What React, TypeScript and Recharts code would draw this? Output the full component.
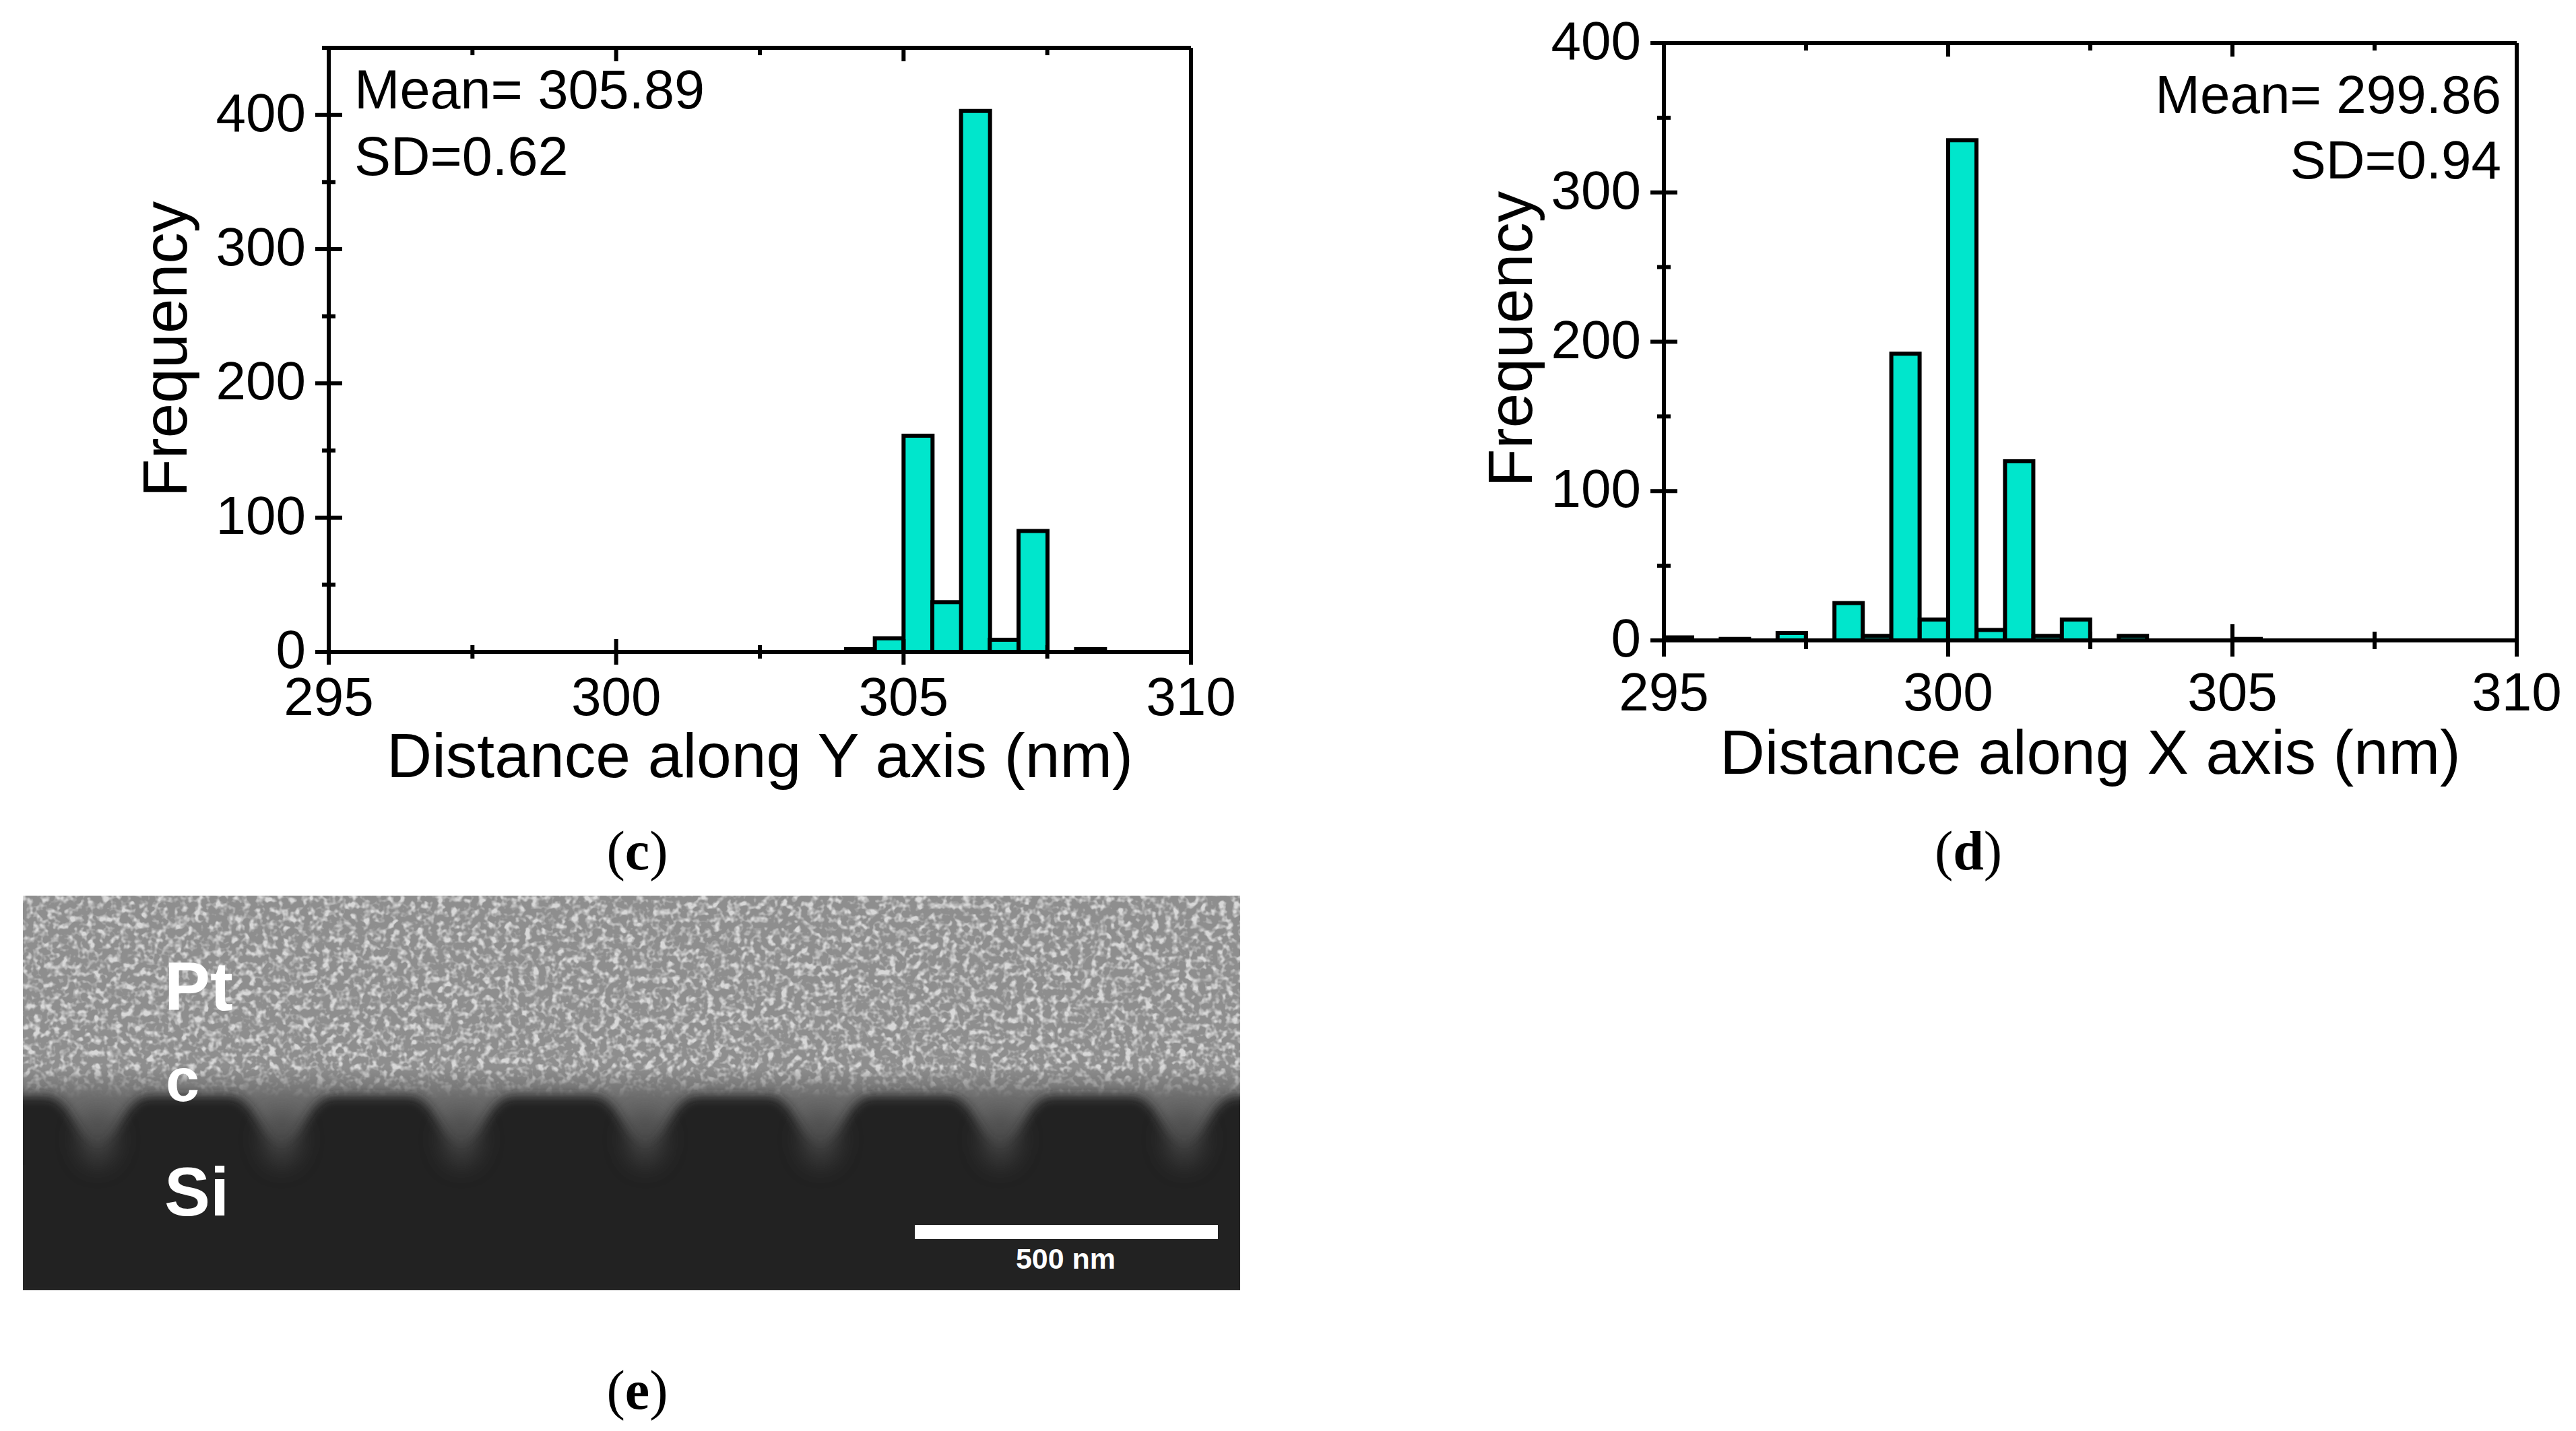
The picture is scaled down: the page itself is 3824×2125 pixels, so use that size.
import { Bar, BarChart, Label, XAxis, YAxis } from "recharts";

const BINS = [
  295, 295.5, 296, 296.5, 297, 297.5, 298, 298.5, 299, 299.5,
  300, 300.5, 301, 301.5, 302, 302.5, 303, 303.5, 304, 304.5,
  305, 305.5, 306, 306.5, 307, 307.5, 308, 308.5, 309, 309.5,
];
const COUNTS_Y = [
  0, 0, 0, 0, 0, 0, 0, 0, 0, 0,
  0, 0, 0, 0, 0, 0, 0, 0, 2, 10,
  161, 37, 403, 9, 90, 0, 2, 0, 0, 0,
];
const COUNTS_X = [
  2, 0, 1, 0, 5, 0, 25, 3, 192, 14,
  335, 7, 120, 3, 14, 0, 3, 0, 0, 0,
  1, 0, 0, 0, 0, 0, 0, 0, 0, 0,
];
const X_TICKS = [295, 297.5, 300, 302.5, 305, 307.5, 310];
const Y_TICKS_Y = [0, 50, 100, 150, 200, 250, 300, 350, 400, 450];
const Y_TICKS_X = [0, 50, 100, 150, 200, 250, 300, 350, 400];

const FONT = "'Liberation Sans', Arial, sans-serif";
const SERIF = "'Liberation Serif', 'Times New Roman', serif";
const BAR_COLOR = "#00E6CC";
const AXIS_LINE = { stroke: "#000", strokeWidth: 6 };

function BottomTick({ x, y, payload, major, minor, labelY }: any) {
  const isMajor = payload.value % 5 === 0;
  const len = isMajor ? major : minor;
  return (
    <g>
      <line x1={x} x2={x} y1={y - len} y2={y + len} stroke="#000" strokeWidth={6} />
      {isMajor && (
        <text x={x} y={y + labelY} textAnchor="middle" fontFamily={FONT} fontSize={80} fill="#000">
          {payload.value}
        </text>
      )}
    </g>
  );
}

function TopTick({ x, y, payload }: any) {
  const len = payload.value % 5 === 0 ? 20 : 11;
  return <line x1={x} x2={x} y1={y} y2={y + len} stroke="#000" strokeWidth={6} />;
}

function LeftTick({ x, y, payload }: any) {
  const isMajor = payload.value % 100 === 0;
  const len = isMajor ? 20 : 10;
  return (
    <g>
      <line x1={x - len} x2={x + len} y1={y} y2={y} stroke="#000" strokeWidth={6} />
      {isMajor && (
        <text x={x - 34} y={y + 24} textAnchor="end" fontFamily={FONT} fontSize={80} fill="#000">
          {payload.value}
        </text>
      )}
    </g>
  );
}

function Histogram({ counts, yMax, yTicks, xTitle, titleSize, box, axes, titleShift, freqShift, majorLen, minorLen, labelY }: any) {
  const rows = BINS.map((bin, i) => ({ bin, count: counts[i] }));
  return (
    <div style={{ position: "absolute", left: box.left, top: 0 }}>
      <BarChart
        width={box.width}
        height={1220}
        data={rows}
        barCategoryGap={0}
        barGap={0}
        margin={{ top: 0, right: 0, bottom: 0, left: 0 }}
      >
        <XAxis xAxisId="bins" dataKey="bin" height={0} hide />
        <XAxis
          xAxisId="bottom"
          dataKey="bin"
          type="number"
          domain={[295, 310]}
          ticks={X_TICKS}
          interval={0}
          height={axes.bottom}
          tickSize={0}
          tickMargin={0}
          tickLine={false}
          axisLine={AXIS_LINE}
          tick={<BottomTick major={majorLen} minor={minorLen} labelY={labelY} />}
          allowDataOverflow
        >
          <Label
            value={xTitle}
            position="center"
            dy={titleShift}
            fontFamily={FONT}
            fontSize={titleSize}
            fill="#000"
          />
        </XAxis>
        <XAxis
          xAxisId="top"
          orientation="top"
          dataKey="bin"
          type="number"
          domain={[295, 310]}
          ticks={X_TICKS}
          interval={0}
          height={axes.top}
          tickSize={0}
          tickMargin={0}
          tickLine={false}
          axisLine={AXIS_LINE}
          tick={<TopTick />}
          allowDataOverflow
        />
        <YAxis
          yAxisId="left"
          type="number"
          domain={[0, yMax]}
          ticks={yTicks}
          interval={0}
          width={axes.left}
          tickSize={0}
          tickMargin={0}
          tickLine={false}
          axisLine={AXIS_LINE}
          tick={<LeftTick />}
          allowDataOverflow
        >
          <Label
            value="Frequency"
            position="center"
            angle={-90}
            dx={freqShift.dx}
            dy={freqShift.dy}
            fontFamily={FONT}
            fontSize={93}
            fill="#000"
          />
        </YAxis>
        <YAxis
          yAxisId="right"
          orientation="right"
          type="number"
          domain={[0, yMax]}
          width={axes.right}
          tick={false}
          tickLine={false}
          axisLine={AXIS_LINE}
          allowDataOverflow
        />
        <Bar
          dataKey="count"
          xAxisId="bins"
          yAxisId="left"
          fill={BAR_COLOR}
          stroke="#000"
          strokeWidth={6}
          isAnimationActive={false}
        />
      </BarChart>
    </div>
  );
}

// SEM cross-section drawn as a plain svg, it is a photo in the original
function SemPanel() {
  const valleys = [145, 418, 685, 958, 1218, 1485, 1758];
  const top = 1628;
  let d = `M20 ${top} `;
  valleys.forEach((v) => {
    d += `L${v - 78} ${top} C${v - 40} ${top} ${v - 34} ${top + 62} ${v} ${top + 74} C${v + 34} ${top + 62} ${v + 40} ${top} ${v + 78} ${top} `;
  });
  d += `L1860 ${top} L1860 1930 L20 1930 Z`;
  return (
    <g>
      <defs>
        <filter id="speckle" x="0" y="0" width="100%" height="100%">
          <feTurbulence type="fractalNoise" baseFrequency="0.1" numOctaves={2} seed={4} />
          <feColorMatrix
            type="matrix"
            values="0 0 0 0 0.69  0 0 0 0 0.69  0 0 0 0 0.69  2.6 2.6 0 0 -2.45"
          />
        </filter>
        <filter id="soft" x="-5%" y="-20%" width="110%" height="140%">
          <feGaussianBlur stdDeviation="8" />
        </filter>
        <filter id="lobe" x="-60%" y="-60%" width="220%" height="220%">
          <feGaussianBlur stdDeviation="16" />
        </filter>
        <linearGradient id="fade" x1="0" x2="0" y1="0" y2="1">
          <stop offset="0" stopColor="#6c6c6c" stopOpacity={0} />
          <stop offset="1" stopColor="#6c6c6c" stopOpacity={1} />
        </linearGradient>
        <linearGradient id="groove" x1="0" x2="0" y1="0" y2="1">
          <stop offset="0" stopColor="#6c6c6c" />
          <stop offset="0.5" stopColor="#585858" />
          <stop offset="1" stopColor="#2c2c2c" />
        </linearGradient>
        <clipPath id="semClip">
          <rect x={34} y={1330} width={1807} height={586} />
        </clipPath>
      </defs>
      <g clipPath="url(#semClip)">
        <rect x={34} y={1330} width={1807} height={300} fill="#8e8e8e" />
        <rect x={34} y={1330} width={1807} height={300} filter="url(#speckle)" />
        <rect x={34} y={1585} width={1807} height={46} fill="url(#fade)" />
        <rect x={34} y={1630} width={1807} height={100} fill="url(#groove)" />
        <path d={d} fill="#232323" filter="url(#soft)" />
        {valleys.map((v) => (
          <ellipse key={v} cx={v} cy={1692} rx={30} ry={40} fill="#4a4a4a" opacity={0.7} filter="url(#lobe)" />
        ))}
      </g>
      <g fontFamily={FONT} fontWeight="bold" fill="#fff">
        <text x={244} y={1500} fontSize={102}>Pt</text>
        <text x={246} y={1635} fontSize={90}>c</text>
        <text x={244} y={1805} fontSize={102}>Si</text>
        <text x={1582} y={1884} fontSize={43} textAnchor="middle">500 nm</text>
      </g>
      <rect x={1358} y={1819} width={450} height={21} fill="#fff" />
    </g>
  );
}

function Caption({ x, y, letter }: any) {
  return (
    <text x={x} y={y} textAnchor="middle" fontFamily={SERIF} fontSize={82} fill="#000">
      (<tspan fontWeight="bold">{letter}</tspan>)
    </text>
  );
}

export default function App() {
  return (
    <div style={{ position: "absolute", left: 0, top: 0, width: 3824, height: 2125, background: "#fff", overflow: "hidden" }}>
      <svg width={3824} height={2125} style={{ position: "absolute", left: 0, top: 0 }}>
        <g fontFamily={FONT} fill="#000">
          <text x={526} y={161} fontSize={81}>Mean= 305.89</text>
          <text x={526} y={260} fontSize={81}>SD=0.62</text>
          <text x={3713} y={168} fontSize={80} textAnchor="end">Mean= 299.86</text>
          <text x={3713} y={265} fontSize={80} textAnchor="end">SD=0.94</text>
        </g>
        <Caption x={946} y={1291} letter="c" />
        <Caption x={2922} y={1291} letter="d" />
        <Caption x={946} y={2092} letter="e" />
        <SemPanel />
      </svg>
      <Histogram
        counts={COUNTS_Y}
        yMax={450}
        yTicks={Y_TICKS_Y}
        xTitle="Distance along Y axis (nm)"
        titleSize={93}
        box={{ left: 200, width: 1680 }}
        axes={{ left: 288, right: 112, top: 71, bottom: 252 }}
        titleShift={27}
        freqShift={{ dx: -100, dy: -1 }}
        majorLen={19}
        minorLen={10}
        labelY={94}
      />
      <Histogram
        counts={COUNTS_X}
        yMax={400}
        yTicks={Y_TICKS_X}
        xTitle="Distance along X axis (nm)"
        titleSize={92}
        box={{ left: 2200, width: 1624 }}
        axes={{ left: 270, right: 88, top: 64, bottom: 269 }}
        titleShift={31}
        freqShift={{ dx: -94, dy: -4 }}
        majorLen={24}
        minorLen={13}
        labelY={104}
      />
    </div>
  );
}
